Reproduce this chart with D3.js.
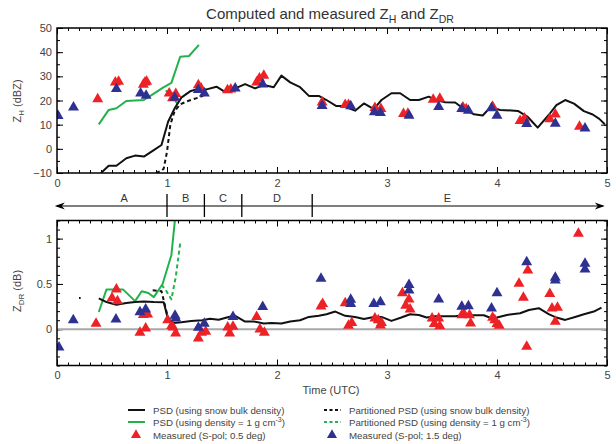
<!DOCTYPE html>
<html>
<head>
<meta charset="utf-8">
<script src="https://cdn.jsdelivr.net/npm/d3@7"></script>
<style>
  body { margin: 0; background: #fff; }
  svg text { font-family: Arial, "Liberation Sans", sans-serif; }
</style>
</head>
<body>
<div id="chart"></div>
<script>
// ---- data (time in UTC hours) ----
const zhPsdSnow = [[0.40,-10],[0.47,-7],[0.54,-7],[0.63,-3.9],[0.71,-2.8],[0.79,-3.2],[0.88,-0.5],[0.95,1.6],[1.01,11.2],[1.07,16.8],[1.13,21.2],[1.21,23.8],[1.29,24.9],[1.36,24.6],[1.45,25.7],[1.53,23.5],[1.62,25],[1.71,26.8],[1.80,25],[1.88,26.4],[1.97,25.5],[2.04,30.3],[2.12,27.5],[2.21,25.5],[2.29,21.9],[2.38,21.9],[2.45,20.2],[2.54,17.7],[2.60,17.7],[2.71,15.8],[2.79,18.8],[2.88,16.4],[2.95,20.2],[3.04,23.0],[3.12,23.0],[3.21,20.2],[3.29,20.2],[3.38,21.6],[3.44,20.2],[3.53,19.3],[3.62,19.2],[3.69,16.8],[3.79,14.3],[3.87,13.8],[3.94,17.2],[4.03,16.1],[4.19,15.7],[4.28,13.2],[4.32,11.2],[4.37,8.8],[4.47,14.0],[4.54,18.1],[4.62,20.2],[4.70,18.7],[4.79,15.6],[4.87,14.2],[4.93,12.4],[4.98,10.2]];
const zhPartSnow = [[0.90,-10],[0.95,-9],[0.97,-8.2],[1.00,-1.2],[1.03,9.9],[1.07,15.7],[1.12,18.4],[1.19,19.8],[1.27,21.0],[1.33,22.0]];
const zhPsdDense = [[0.38,10.1],[0.47,16.1],[0.54,16.8],[0.63,19.8],[0.71,20.0],[0.79,20.2],[0.87,22.5],[0.96,25.2],[1.04,27.3],[1.12,38.1],[1.20,38.4],[1.29,43]];
const zhPartDense = [[0.99,24.2],[1.05,21.0],[1.12,17.6]];
const zhMeas05 = [[0.37,20.6],[0.53,27.5],[0.56,27.8],[0.785,26.6],[0.80,27.5],[0.815,27.8],[1.02,23.0],[1.05,21.0],[1.08,22.8],[1.285,26.4],[1.31,25.0],[1.55,24.3],[1.58,24.6],[1.815,27.5],[1.84,29.2],[1.88,30.3],[2.41,19.2],[2.62,18.2],[2.65,18.2],[2.89,17.0],[2.945,16.6],[3.15,14.5],[3.19,14.6],[3.42,20.4],[3.48,20.8],[3.69,17.2],[3.72,16.4],[3.96,17.5],[4.21,11.6],[4.25,12.6],[4.48,12.3],[4.53,14.3],[4.75,9.2]];
const zhMeas15 = [[0.01,13.7],[0.15,17.2],[0.54,24.8],[0.76,23.0],[0.81,22.0],[1.07,21.2],[1.285,24.4],[1.34,23.0],[1.62,25.0],[1.87,26.7],[2.41,17.8],[2.67,17.7],[2.885,15.2],[2.94,14.9],[3.20,13.8],[3.47,17.4],[3.68,16.5],[3.74,15.8],[3.95,16.9],[4.00,13.8],[4.27,10.3],[4.53,10.4],[4.80,8.5]];

const zdrPsdSnow = [[0.20,0.345],[0.215,0.345],[0.3,null],[0.38,0.34],[0.45,0.30],[0.54,0.27],[0.63,0.29],[0.71,0.30],[0.79,0.305],[0.88,0.30],[0.97,0.298],[1.01,0.11],[1.06,0.07],[1.13,0.078],[1.22,0.092],[1.32,0.10],[1.39,0.117],[1.47,0.105],[1.56,0.135],[1.62,0.148],[1.71,0.085],[1.79,0.085],[1.88,0.063],[1.95,0.07],[2.04,0.063],[2.12,0.085],[2.21,0.10],[2.29,0.136],[2.38,0.148],[2.45,0.166],[2.53,0.195],[2.62,0.148],[2.71,0.136],[2.79,0.114],[2.88,0.136],[2.95,0.136],[3.04,0.092],[3.13,0.129],[3.21,0.166],[3.29,0.158],[3.36,0.129],[3.44,0.143],[3.53,0.143],[3.62,0.143],[3.69,0.155],[3.79,0.155],[3.88,0.155],[3.95,0.122],[4.00,0.129],[4.09,0.158],[4.21,0.177],[4.29,0.213],[4.38,0.232],[4.47,0.166],[4.54,0.129],[4.62,0.103],[4.71,0.136],[4.79,0.166],[4.88,0.195],[4.95,0.239]];
const zdrPartSnow = [[0.87,0.43],[0.95,0.42],[0.98,0.27],[1.01,0.12],[1.03,0.08]];
const zdrPsdDense = [[0.38,0.19],[0.45,0.44],[0.53,0.44],[0.60,0.44],[0.71,0.31],[0.77,0.42],[0.83,0.40],[0.88,0.355],[0.96,0.50],[1.04,0.82],[1.08,1.30]];
const zdrPartDense = [[0.95,0.49],[0.99,0.43],[1.04,0.33],[1.08,0.58],[1.12,0.95]];
const zdrMeas05 = [[0.355,0.063],[0.50,0.343],[0.54,0.44],[0.55,0.31],[0.754,-0.036],[0.785,0.16],[0.806,0.011],[0.824,0.165],[1.006,0.10],[1.042,0.038],[1.055,0.02],[1.079,-0.046],[1.285,-0.10],[1.315,-0.036],[1.352,-0.025],[1.552,0.02],[1.57,-0.046],[1.60,0.03],[1.815,0.137],[1.845,0.0],[1.885,-0.037],[2.40,0.254],[2.415,0.28],[2.62,0.29],[2.65,0.04],[2.68,0.07],[2.89,0.12],[2.92,0.10],[2.94,0.044],[2.95,0.07],[3.14,0.40],[3.17,0.26],[3.20,0.33],[3.21,0.22],[3.41,0.12],[3.43,0.06],[3.47,0.12],[3.48,0.035],[3.68,0.157],[3.70,0.17],[3.75,0.157],[3.76,0.066],[3.96,0.13],[3.98,0.10],[4.00,0.06],[4.02,0.04],[4.20,0.504],[4.24,0.35],[4.28,0.65],[4.27,-0.19],[4.48,0.39],[4.50,0.23],[4.55,0.24],[4.53,0.085],[4.74,1.056]];
const zdrMeas15 = [[0.018,-0.20],[0.148,0.10],[0.536,0.11],[0.754,0.19],[0.806,0.22],[1.073,0.15],[1.08,0.12],[1.285,0.018],[1.339,0.063],[1.60,0.136],[1.87,0.247],[2.40,0.56],[2.67,0.28],[2.67,0.328],[2.88,0.28],[2.94,0.30],[3.20,0.43],[3.20,0.49],[3.47,0.33],[3.68,0.25],[3.74,0.255],[3.95,0.23],[4.00,0.40],[4.27,0.74],[4.53,0.57],[4.53,0.54],[4.80,0.66],[4.80,0.725]];

// phases along the time arrow
const phaseBounds = [1.0, 1.34, 1.68, 2.32];
const phaseLabels = [["A",0.61],["B",1.17],["C",1.51],["D",2.0],["E",3.55]];

const xTicks = [0, 1, 2, 3, 4, 5];
const zhTicks = [-10, 0, 10, 20, 30, 40, 50];
const zdrTicks = [0, 0.5, 1];

// ---- layout ----
const width = 616, height = 444;
const x = d3.scaleLinear().domain([0, 5]).range([57, 607]);
const yZh = d3.scaleLinear().domain([-10, 50]).range([173, 28]);
const yZdr = d3.scaleLinear().domain([-0.4, 1.2]).range([365.5, 220.5]);

const black = "#111", green = "#22b24c", red = "#ec2227", blue = "#2e3192";

const svg = d3.select("#chart").append("svg")
  .attr("width", width)
  .attr("height", height);

function drawPanel(id, y, major, minorStep, fmt, lines, pts05, pts15) {
  const [yb, yt] = y.range();
  const g = svg.append("g");

  g.append("clipPath").attr("id", id)
    .append("rect")
    .attr("x", x(0)).attr("y", yt)
    .attr("width", x(5) - x(0)).attr("height", yb - yt);

  const minorY = d3.range(y.domain()[0], y.domain()[1] + 1e-9, minorStep);
  const minorX = d3.range(0, 5.0001, 0.1);

  const styleAxis = sel => {
    sel.select(".domain").remove();
    sel.attr("font-size", 11).attr("font-family", null).attr("color", "#000");
    sel.selectAll("line").attr("stroke-width", 1);
    sel.selectAll("text").attr("fill", "#444");
  };

  // minor ticks, all four sides
  g.append("g").attr("transform", `translate(0,${yb})`)
    .call(d3.axisBottom(x).tickValues(minorX).tickSize(-3).tickFormat("")).call(styleAxis);
  g.append("g").attr("transform", `translate(0,${yt})`)
    .call(d3.axisTop(x).tickValues(minorX).tickSize(-3).tickFormat("")).call(styleAxis);
  g.append("g").attr("transform", `translate(${x(0)},0)`)
    .call(d3.axisLeft(y).tickValues(minorY).tickSize(-3).tickFormat("")).call(styleAxis);
  g.append("g").attr("transform", `translate(${x(5)},0)`)
    .call(d3.axisRight(y).tickValues(minorY).tickSize(-3).tickFormat("")).call(styleAxis);

  // major ticks + labels
  g.append("g").attr("transform", `translate(0,${yb})`)
    .call(d3.axisBottom(x).tickValues(xTicks).tickSize(-6).tickPadding(6).tickFormat(d3.format("d"))).call(styleAxis);
  g.append("g").attr("transform", `translate(0,${yt})`)
    .call(d3.axisTop(x).tickValues(xTicks).tickSize(-6).tickFormat("")).call(styleAxis);
  g.append("g").attr("transform", `translate(${x(0)},0)`)
    .call(d3.axisLeft(y).tickValues(major).tickSize(-6).tickPadding(5).tickFormat(fmt)).call(styleAxis);
  g.append("g").attr("transform", `translate(${x(5)},0)`)
    .call(d3.axisRight(y).tickValues(major).tickSize(-6).tickFormat("")).call(styleAxis);

  const plot = g.append("g").attr("clip-path", `url(#${id})`);

  if (y === yZdr) {
    plot.append("line")
      .attr("x1", x(0)).attr("x2", x(5))
      .attr("y1", y(0)).attr("y2", y(0))
      .attr("stroke", "#a8a8a8").attr("stroke-width", 2);
  }

  const line = d3.line()
    .defined(d => d[1] != null)
    .x(d => x(d[0]))
    .y(d => y(d[1]));

  lines.forEach(l => {
    plot.append("path")
      .datum(l.data)
      .attr("fill", "none")
      .attr("stroke", l.color)
      .attr("stroke-width", 2)
      .attr("stroke-linejoin", "round")
      .attr("stroke-dasharray", l.dash ? "4,3" : null)
      .attr("d", line);
  });

  const tri = d3.symbol(d3.symbolTriangle, 52);
  [[pts05, red], [pts15, blue]].forEach(([pts, col]) => {
    plot.selectAll(null)
      .data(pts)
      .enter().append("path")
      .attr("d", tri)
      .attr("transform", d => `translate(${x(d[0])},${y(d[1])})`)
      .attr("fill", col);
  });

  g.append("rect")
    .attr("x", x(0)).attr("y", yt)
    .attr("width", x(5) - x(0)).attr("height", yb - yt)
    .attr("fill", "none")
    .attr("stroke", "#000")
    .attr("stroke-width", 1.5);
}

drawPanel("clipZh", yZh, zhTicks, 5, d3.format("d"), [
  { data: zhPsdDense, color: green },
  { data: zhPartDense, color: green, dash: true },
  { data: zhPsdSnow, color: black },
  { data: zhPartSnow, color: black, dash: true }
], zhMeas05, zhMeas15);

drawPanel("clipZdr", yZdr, zdrTicks, 0.1, d => d === 0 ? "0" : d === 1 ? "1" : "0.5", [
  { data: zdrPsdDense, color: green },
  { data: zdrPartDense, color: green, dash: true },
  { data: zdrPsdSnow, color: black },
  { data: zdrPartSnow, color: black, dash: true }
], zdrMeas05, zdrMeas15);

// title
const title = svg.append("text")
  .attr("x", 330).attr("y", 18.5)
  .attr("text-anchor", "middle")
  .attr("font-size", 15)
  .attr("fill", "#333");
title.append("tspan").text("Computed and measured Z");
title.append("tspan").attr("font-size", 10.5).attr("dy", 4).text("H");
title.append("tspan").attr("dy", -4).text(" and Z");
title.append("tspan").attr("font-size", 10.5).attr("dy", 4).text("DR");

// axis labels
function yLabel(cx, cy, sub, rest) {
  const t = svg.append("text")
    .attr("transform", `translate(${cx},${cy}) rotate(-90)`)
    .attr("text-anchor", "middle")
    .attr("font-size", 11)
    .attr("fill", "#444");
  t.append("tspan").text("Z");
  t.append("tspan").attr("font-size", 8).attr("dy", 3).text(sub);
  t.append("tspan").attr("dy", -3).text(rest);
}
yLabel(21, 101, "H", " (dBZ)");
yLabel(21, 291, "DR", " (dB)");

svg.append("text")
  .attr("x", 331).attr("y", 394)
  .attr("text-anchor", "middle")
  .attr("font-size", 11)
  .attr("fill", "#444")
  .text("Time (UTC)");

// phase arrow
const arrowY = 206;
const ax0 = x(-0.02), ax1 = x(4.98);
svg.append("line")
  .attr("x1", ax0 + 2).attr("x2", ax1 - 2)
  .attr("y1", arrowY).attr("y2", arrowY)
  .attr("stroke", "#000").attr("stroke-width", 1.2);
svg.append("path")
  .attr("d", `M${ax0},${arrowY} L${ax0 + 10},${arrowY - 3.5} L${ax0 + 7},${arrowY} L${ax0 + 10},${arrowY + 3.5} Z`)
  .attr("fill", "#000");
svg.append("path")
  .attr("d", `M${ax1},${arrowY} L${ax1 - 10},${arrowY - 3.5} L${ax1 - 7},${arrowY} L${ax1 - 10},${arrowY + 3.5} Z`)
  .attr("fill", "#000");

svg.selectAll(".phase-div")
  .data(phaseBounds)
  .enter().append("line")
  .attr("class", "phase-div")
  .attr("x1", d => x(d)).attr("x2", d => x(d))
  .attr("y1", 194).attr("y2", 217)
  .attr("stroke", "#000").attr("stroke-width", 1.3);

svg.selectAll(".phase-label")
  .data(phaseLabels)
  .enter().append("text")
  .attr("class", "phase-label")
  .attr("x", d => x(d[1])).attr("y", 202)
  .attr("text-anchor", "middle")
  .attr("font-size", 11)
  .attr("fill", "#333")
  .text(d => d[0]);

// legend
const legendItems = [
  { col: 0, row: 0, type: "line", color: black, label: "PSD (using snow bulk density)" },
  { col: 0, row: 1, type: "line", color: green, label: "PSD (using density = 1 g cm", sup: "-3" },
  { col: 0, row: 2, type: "tri", color: red, label: "Measured (S-pol; 0.5 deg)" },
  { col: 1, row: 0, type: "dash", color: black, label: "Partitioned PSD (using snow bulk density)" },
  { col: 1, row: 1, type: "dash", color: green, label: "Partitioned PSD (using density = 1 g cm", sup: "-3" },
  { col: 1, row: 2, type: "tri", color: blue, label: "Measured (S-pol; 1.5 deg)" }
];
const colX = [128, 324], rowY = [410, 422, 435];

const legend = svg.append("g");
legendItems.forEach(d => {
  const lx = colX[d.col], ly = rowY[d.row];
  if (d.type === "tri") {
    legend.append("path")
      .attr("d", d3.symbol(d3.symbolTriangle, 44))
      .attr("transform", `translate(${lx + 8},${ly})`)
      .attr("fill", d.color);
  } else {
    legend.append("line")
      .attr("x1", lx).attr("x2", lx + 17)
      .attr("y1", ly).attr("y2", ly)
      .attr("stroke", d.color).attr("stroke-width", 2)
      .attr("stroke-dasharray", d.type === "dash" ? "3,2.5" : null);
  }
  const t = legend.append("text")
    .attr("x", lx + 25).attr("y", ly + 3.5)
    .attr("font-size", 9.7)
    .attr("fill", "#444");
  t.append("tspan").text(d.label);
  if (d.sup) {
    t.append("tspan").attr("font-size", 7).attr("dy", -4).text(d.sup);
    t.append("tspan").attr("dy", 4).text(")");
  }
});
</script>
</body>
</html>
